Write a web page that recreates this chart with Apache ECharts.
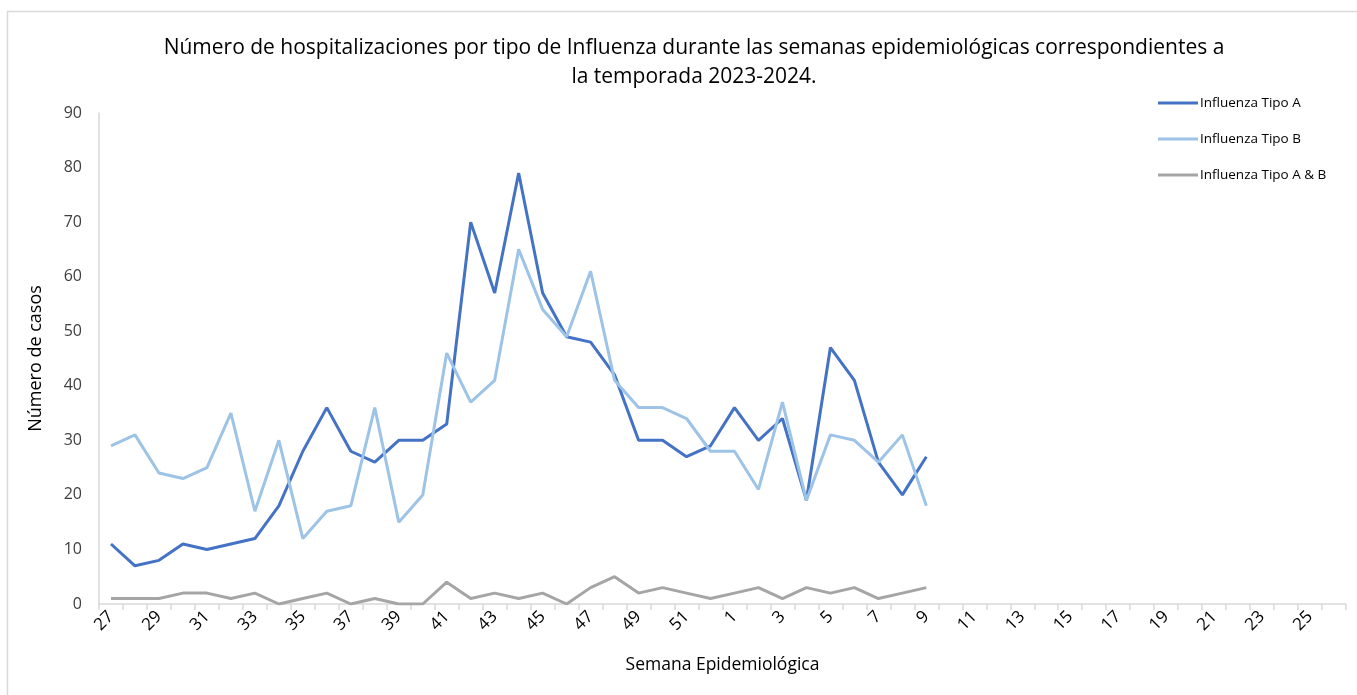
<!DOCTYPE html>
<html><head><meta charset="utf-8">
<script src="https://cdn.jsdelivr.net/npm/echarts@6/dist/echarts.min.js"></script>
<style>html,body{margin:0;padding:0;background:#fff}#c{width:1357px;height:695px}</style>
</head><body><div id="c"></div>
<script>
const weeks = [27,28,29,30,31,32,33,34,35,36,37,38,39,40,41,42,43,44,45,46,47,48,49,50,51,52,1,2,3,4,5,6,7,8,9,10,11,12,13,14,15,16,17,18,19,20,21,22,23,24,25,26].map(String);
const tipoA = [11,7,8,11,10,11,12,18,28,36,28,26,30,30,33,70,57,79,57,49,48,42,30,30,27,29,36,30,34,19,47,41,26,20,27];
const tipoB = [29,31,24,23,25,35,17,30,12,17,18,36,15,20,46,37,41,65,54,49,61,41,36,36,34,28,28,21,37,19,31,30,26,31,18];
const tipoAB = [1,1,1,2,2,1,2,0,1,2,0,1,0,0,4,1,2,1,2,0,3,5,2,3,2,1,2,3,1,3,2,3,1,2,3];
const yTicks = {min:0, max:90, interval:10};
const seriesNames = ['Influenza Tipo A','Influenza Tipo B','Influenza Tipo A & B'];

const font = '"Open Sans", "Noto Sans", sans-serif';
const chart = echarts.init(document.getElementById('c'), null, {renderer:'canvas'});
chart.setOption({
  animation:false,
  backgroundColor:'#fff',
  title:{
    text:'Número de hospitalizaciones por tipo de Influenza durante las semanas epidemiológicas correspondientes a\nla temporada 2023-2024.',
    left:689, top:29, textAlign:'center',
    textStyle:{fontFamily:font, fontSize:21, fontWeight:'normal', color:'#000', lineHeight:29}
  },
  legend:{
    orient:'vertical', left:1153, top:91, itemGap:22,
    itemWidth:40, itemHeight:3, icon:'rect',
    textStyle:{fontFamily:font, fontSize:13.5, color:'#000', padding:[0,0,0,-3]},
    data:seriesNames
  },
  grid:{left:99, right:11, top:113, bottom:91, containLabel:false},
  xAxis:{
    type:'category', data:weeks, boundaryGap:true,
    name:'Semana Epidemiológica', nameLocation:'middle', nameGap:52,
    nameTextStyle:{fontFamily:font, fontSize:17.5, color:'#000'},
    axisLine:{lineStyle:{color:'#d9d9d9', width:1.5}},
    axisTick:{show:true, interval:0, length:6, lineStyle:{color:'#d9d9d9', width:1.5}},
    axisLabel:{interval:1, rotate:45, fontFamily:font, fontSize:17, color:'#000', margin:10}
  },
  yAxis:{
    type:'value', min:yTicks.min, max:yTicks.max, interval:yTicks.interval,
    name:'Número de casos', nameLocation:'middle', nameGap:54,
    nameTextStyle:{fontFamily:font, fontSize:18, color:'#000'},
    splitLine:{show:false},
    axisLine:{show:true, lineStyle:{color:'#d9d9d9', width:1.5}},
    axisTick:{show:false},
    axisLabel:{fontFamily:font, fontSize:16, color:'#404040', margin:17}
  },
  graphic:[{type:'rect', shape:{x:7.5,y:11.5,width:1360,height:700}, style:{fill:'none', stroke:'#d9d9d9', lineWidth:1.5}, silent:true}],
  series:[
    {name:seriesNames[0], type:'line', data:tipoA, symbol:'none', lineStyle:{width:3, color:'#4472C4'}, itemStyle:{color:'#4472C4'}},
    {name:seriesNames[1], type:'line', data:tipoB, symbol:'none', lineStyle:{width:3, color:'#9DC3E6'}, itemStyle:{color:'#9DC3E6'}},
    {name:seriesNames[2], type:'line', data:tipoAB, symbol:'none', lineStyle:{width:3, color:'#A5A5A5'}, itemStyle:{color:'#A5A5A5'}}
  ]
});
</script></body></html>
